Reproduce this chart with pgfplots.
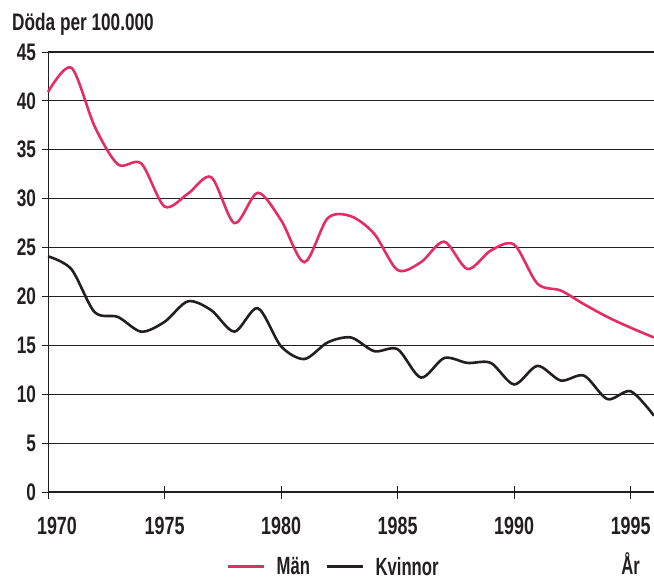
\documentclass[border=0pt]{standalone}
\usepackage{fontspec}
\setmainfont{Liberation Sans}[FakeStretch=0.72]
\newfontfamily\narrowfont{Liberation Sans}[FakeStretch=0.67]
\usepackage{pgfplots}
\pgfplotsset{compat=1.18}
\definecolor{man}{RGB}{228,45,100}
\definecolor{ink}{RGB}{35,31,32}

\begin{document}
\begin{tikzpicture}
\begin{axis}[
    scale only axis,
    width=606bp, height=440bp,
    xmin=1970, xmax=1996,
    ymin=0, ymax=45,
    axis lines=left,
    axis line style={-, line width=1bp, ink},
    xtick={1970,1975,...,1995},
    xticklabels={\hspace{18bp}1970,1975,1980,1985,1990,1995},
    ytick={0,5,...,45},
    tick align=center,
    major tick length=13bp,
    tick style={line width=1bp, ink},
    ymajorgrids,
    grid style={line width=1.1bp, ink},
    /pgf/number format/1000 sep={},
    /pgf/number format/assume math mode=true,
    xticklabel style={font=\bfseries\fontsize{25}{25}\selectfont, text=ink, yshift=-15bp},
    yticklabel style={font=\bfseries\fontsize{24}{24}\selectfont, text=ink, anchor=east, xshift=-2bp},
    legend style={at={(0.2954,-0.170)}, anchor=west, draw=none, fill=none,
        inner sep=0pt, outer sep=0pt,
        font=\narrowfont\bfseries\fontsize{25}{25}\selectfont, text=ink,
        /tikz/every odd column/.append style={column sep=11bp},
        /tikz/every even column/.append style={column sep=16bp},
        nodes={inner sep=0pt}},
    legend columns=-1,
    legend image code/.code={\draw[#1, line width=2.6bp] (0bp,0bp) -- (36bp,0bp);},
    clip=false,
]
% Män
\addplot[man, line width=2.6bp, smooth] coordinates {
(1970,40.9) (1971,43.4) (1972,37.4) (1973,33.5) (1974,33.6) (1975,29.2)
(1976,30.5) (1977,32.2) (1978,27.5) (1979,30.6) (1980,27.8) (1981,23.5)
(1982,28.0) (1983,28.2) (1984,26.4) (1985,22.7) (1986,23.5) (1987,25.6)
(1988,22.8) (1989,24.7) (1990,25.3) (1991,21.3) (1992,20.6) (1993,19.2)
(1994,17.9) (1995,16.8) (1996,15.8)};
\addlegendentry{Män}
% Kvinnor
\addplot[ink, line width=2.6bp, smooth] coordinates {
(1970,24.1) (1971,22.8) (1972,18.4) (1973,17.9) (1974,16.4) (1975,17.4)
(1976,19.5) (1977,18.6) (1978,16.4) (1979,18.8) (1980,14.9) (1981,13.6)
(1982,15.3) (1983,15.8) (1984,14.4) (1985,14.6) (1986,11.7) (1987,13.7)
(1988,13.2) (1989,13.2) (1990,11.0) (1991,12.9) (1992,11.4) (1993,11.9)
(1994,9.5) (1995,10.3) (1996,7.8)};
\addlegendentry{Kvinnor}
\node[anchor=base west, font=\bfseries\fontsize{24}{24}\selectfont, text=ink,
      inner sep=0pt] at ([xshift=-36bp, yshift=22bp]rel axis cs:0,1) {Döda per 100.000};
\node[anchor=base, font=\narrowfont\bfseries\fontsize{25}{25}\selectfont, text=ink,
      inner sep=0pt] at ([yshift=-82bp]axis cs:1995,0) {År};
\end{axis}
\pgfresetboundingbox
\path[use as bounding box] (-48bp,-87bp) rectangle (606bp,492bp);
\end{tikzpicture}
\end{document}
